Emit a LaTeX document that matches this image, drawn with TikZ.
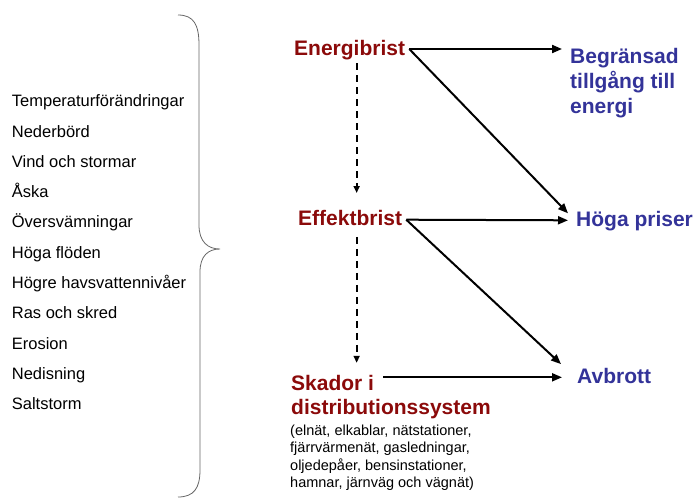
\documentclass[tikz,border=0pt]{standalone}
\usepackage{fontspec}
\setmainfont{Liberation Sans}
\usetikzlibrary{arrows.meta}
\definecolor{causered}{RGB}{139,10,10}
\definecolor{effectblue}{RGB}{51,51,153}
\newcommand{\ListTop}{106.7}
\newcommand{\ListGap}{30.3}

\begin{document}
\begin{tikzpicture}[x=1pt,y=-1pt,
  factor/.style={anchor=base west,inner sep=0pt,font=\fontsize{16.5}{18}\selectfont},
  cause/.style={anchor=base west,inner xsep=4pt,inner ysep=4pt,text=causered,
    font=\fontsize{21}{25}\selectfont\bfseries},
  effect/.style={anchor=base west,inner xsep=8pt,inner ysep=3pt,text=effectblue,
    font=\fontsize{21}{25}\selectfont\bfseries,align=left},
  oneline/.style={text height=16pt,text depth=4pt},
  detail/.style={anchor=base west,inner sep=0pt,align=left,
    font=\fontsize{14.5}{17.6}\selectfont},
  arrow/.style={line width=2pt,-{Triangle[length=10pt,width=8pt]}},
  dasharrow/.style={line width=1.8pt,dash pattern=on 7pt off 5pt,
    -{Triangle[length=7pt,width=6pt]}}]

\useasboundingbox (0,0) rectangle (698,498);

% klimatfaktorer
\node[factor] (temp) at (11.7,\ListTop) {Temperaturförändringar};
\node[factor] (neder) at (11.7,\ListTop+1*\ListGap) {Nederbörd};
\node[factor] (vind) at (11.7,\ListTop+2*\ListGap) {Vind och stormar};
\node[factor] (aska) at (11.7,\ListTop+3*\ListGap) {Åska};
\node[factor] (oversv) at (11.7,\ListTop+4*\ListGap) {Översvämningar};
\node[factor] (hogafl) at (11.7,\ListTop+5*\ListGap) {Höga flöden};
\node[factor] (havsniva) at (11.7,\ListTop+6*\ListGap) {Högre havsvattennivåer};
\node[factor] (ras) at (11.7,\ListTop+7*\ListGap) {Ras och skred};
\node[factor] (erosion) at (11.7,\ListTop+8*\ListGap) {Erosion};
\node[factor] (nedis) at (11.7,\ListTop+9*\ListGap) {Nedisning};
\node[factor] (salt) at (11.7,\ListTop+10*\ListGap) {Saltstorm};

% klammer
\draw [gray!80!black, line width=0.8pt] (178,15) .. controls (194,15) and (199,25) .. (199,45)
  -- (199,225) .. controls (199,242) and (208,249) .. (220,249)
  .. controls (208,249) and (200,256) .. (200,272)
  -- (200,470) .. controls (200,488) and (194,497) .. (178,497);

% orsaker
\node[cause,oneline] (ebrist) at (290,55) {Energibrist};
\node[cause,oneline] (effekt) at (294,225.7) {Effektbrist};
\node[cause,oneline] (skador) at (287,390) {Skador i};
\node[cause,oneline] (distr) at (287,414.5) {distributionssystem};
% base = sista raden
\node[detail] (anlagg) at (290,487.8) {(elnät, elkablar, nätstationer,\\fjärrvärmenät, gasledningar,\\oljedepåer, bensinstationer,\\hamnar, järnväg och vägnät)};

% följder
\node[effect] (begr) at (562,113.7) {Begränsad\\tillgång till\\energi};
\node[effect,oneline] (hoga) at (568,226.3) {Höga priser};
\node[effect,oneline] (avbrott) at (569,383.3) {Avbrott};

\draw[arrow] (ebrist.east) -- (ebrist.east -| begr.west);
\draw[arrow] (ebrist.east) -- ([yshift=7pt]hoga.west);
\draw[arrow] (effekt.east) -- (hoga.west);
\draw[arrow] (effekt.east) -- ([xshift=-8pt]avbrott.north west);
\draw[arrow, shorten <=5pt, shorten >=7pt] (skador.east |- avbrott.west) -- (avbrott.west);

\draw[dasharrow, shorten >=12.5pt] ([xshift=7pt]ebrist.south) -- ([xshift=7pt]ebrist.south |- effekt.north);
\draw[dasharrow, shorten <=3pt, shorten >=7pt] ([xshift=7pt]ebrist.south |- effekt.south) -- ([xshift=7pt]ebrist.south |- skador.north);

\end{tikzpicture}
\end{document}
